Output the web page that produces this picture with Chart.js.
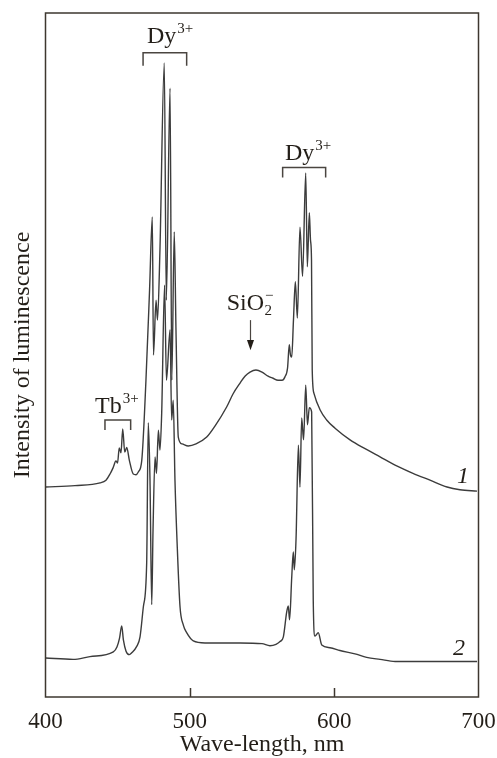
<!DOCTYPE html>
<html>
<head>
<meta charset="utf-8">
<title>Luminescence spectra</title>
<script src="https://cdn.jsdelivr.net/npm/chart.js@4.4.0/dist/chart.umd.min.js"></script>
<style>
  html, body { margin: 0; padding: 0; background: #fff; }
  #wrap { width: 497px; height: 758px; }
</style>
</head>
<body>
<div id="wrap"><canvas id="spectra"></canvas></div>
<script>
// Spectrum 1: wavelength (nm) and intensity (arb. units)
const wl1 = [400, 420.4, 437.8, 441.9, 444.7, 446.8, 448.8, 449.9, 451.1, 452.3, 453.5, 454.9, 456.3, 458.1,
  460.8, 462.7, 464.3, 466.7, 469.6, 472.1, 474.0, 474.8, 476.6, 477.6, 479.3, 482.3, 483.7, 486.3, 487.5,
  489.2, 490.4, 492.0, 494.6, 498.9, 504.3, 511.7, 517.4, 525.5, 529.9, 534.8, 538.2, 541.7, 545.8, 550.0,
  554.2, 557.6, 561.1, 563.9, 565.9, 567.7, 568.9, 569.7, 570.6, 571.8, 573.1, 574.5, 576.3, 578.1, 580.3,
  581.4, 582.8, 583.6, 584.3, 584.8, 586.0, 590.2, 594.8, 600.6, 611.0, 621.4, 631.8, 642.2, 654.6, 666.4,
  678.2, 687.2, 699.0];
const int1 = [30.7, 30.9, 31.3, 31.7, 32.6, 33.5, 34.5, 34.2, 36.4, 35.7, 39.2, 35.8, 36.5, 34.6,
  32.6, 32.5, 32.9, 34.6, 46.3, 59.5, 70.2, 50.0, 58.0, 55.1, 65.4, 92.7, 58.0, 89.0, 46.3,
  68.0, 53.7, 38.0, 37.0, 36.7, 37.0, 38.0, 39.6, 42.4, 44.3, 45.9, 46.9, 47.5, 47.8, 47.5,
  46.9, 46.6, 46.3, 46.3, 46.8, 48.1, 51.5, 50.0, 49.7, 55.1, 60.7, 55.4, 68.7, 61.5, 76.6,
  62.9, 70.8, 66.8, 63.9, 47.8, 44.4, 42.0, 40.5, 39.3, 37.6, 36.3, 35.1, 33.9, 32.7, 31.7,
  30.7, 30.3, 30.1];

// Spectrum 2
const wl2 = [400, 419.1, 430.8, 447.0, 449.5, 451.3, 452.8, 454.0, 455.8, 458.1, 459.9, 463.2, 465.5, 467.8,
  470.1, 471.2, 472.4, 473.6, 474.5, 475.9, 476.9, 478.2, 479.3, 480.5, 482.5, 483.8, 486.3, 487.4, 488.5,
  489.7, 491.3, 493.2, 495.5, 497.8, 502.4, 510.5, 534.8, 550.0, 555.5, 559.7, 562.5, 564.8, 567.1, 568.2,
  569.1, 570.6, 571.7, 572.4, 573.6, 575.2, 576.3, 577.5, 578.8, 580.3, 581.5, 582.8, 584.4, 585.5, 586.7,
  589.0, 591.4, 597.1, 604.0, 614.4, 622.5, 631.8, 642.2, 666.4, 699.0];
const int2 = [5.7, 5.5, 5.9, 6.6, 7.3, 8.6, 10.4, 8.3, 6.7, 6.2, 6.5, 7.4, 8.8, 13.2,
  19.6, 40.1, 31.7, 13.5, 24.4, 35.1, 32.7, 39.0, 36.1, 41.5, 60.2, 46.3, 53.7, 40.5, 43.4,
  31.7, 21.9, 13.2, 10.5, 9.4, 8.2, 7.9, 7.9, 7.8, 7.5, 7.7, 8.1, 8.8, 12.4, 13.3,
  11.3, 17.5, 21.2, 18.6, 23.2, 36.8, 30.7, 40.8, 37.6, 45.6, 39.8, 42.3, 41.7, 14.2, 8.9,
  9.4, 7.6, 7.2, 6.8, 6.3, 5.8, 5.5, 5.2, 5.2, 5.2];

const xTicks = [400, 500, 600, 700];

const serif = '"Liberation Serif", "Times New Roman", serif';
const ink = '#231e18';
const lineColor = '#3c3c3c';

const toPoints = (xs, ys) => xs.map((v, i) => ({ x: v, y: ys[i] }));

// box around the plot and the short inward ticks at 500 / 600
const framePlugin = {
  id: 'frame',
  afterDraw(chart) {
    const { ctx, chartArea: a, scales: { x } } = chart;
    ctx.save();
    ctx.strokeStyle = '#3d372f';
    ctx.lineWidth = 1.5;
    ctx.strokeRect(a.left, a.top, a.right - a.left, a.bottom - a.top);
    xTicks.slice(1, -1).forEach(v => {
      const px = Math.round(x.getPixelForValue(v)) + 0.5;
      ctx.beginPath();
      ctx.moveTo(px, a.bottom);
      ctx.lineTo(px, a.bottom - 9);
      ctx.stroke();
    });
    ctx.restore();
  }
};

// text with superscript (and optional subscript) after it
function ionLabel(ctx, px, py, base, sup, sub) {
  ctx.font = '24px ' + serif;
  ctx.textBaseline = 'alphabetic';
  ctx.textAlign = 'left';
  ctx.fillText(base, px, py);
  const w = ctx.measureText(base).width;
  ctx.font = '15px ' + serif;
  if (sub) ctx.fillText(sub, px + w + 0.5, py + 5);
  ctx.fillText(sup, px + w + 1, py - 10);
}

function bracket(ctx, x1, x2, y, h) {
  ctx.beginPath();
  ctx.moveTo(x1, y + h);
  ctx.lineTo(x1, y);
  ctx.lineTo(x2, y);
  ctx.lineTo(x2, y + h);
  ctx.stroke();
}

const labelPlugin = {
  id: 'labels',
  afterDatasetsDraw(chart) {
    const { ctx, scales: { x, y } } = chart;
    const X = v => x.getPixelForValue(v);
    const Y = v => y.getPixelForValue(v);
    ctx.save();
    ctx.fillStyle = ink;
    ctx.strokeStyle = '#4a4540';
    ctx.lineWidth = 1.5;

    // Dy3+ band at ~480 nm
    bracket(ctx, X(467.6), X(497.8), Y(94.2), 13);
    ionLabel(ctx, X(470.3), Y(95.6), 'Dy', '3+');
    // Dy3+ band at ~575 nm
    bracket(ctx, X(564.3), X(594.1), Y(77.4), 10);
    ionLabel(ctx, X(565.9), Y(78.5), 'Dy', '3+');
    // Tb3+
    bracket(ctx, X(441.2), X(459.0), Y(40.5), 10);
    ionLabel(ctx, X(434.3), Y(41.5), 'Tb', '3+');
    // SiO2- band with arrow
    ionLabel(ctx, X(525.5), Y(56.6), 'SiO', '\u2212', '2');
    const ax = Math.round(X(541.7)) + 0.5;
    ctx.lineWidth = 1.2;
    ctx.beginPath();
    ctx.moveTo(ax, Y(55.1));
    ctx.lineTo(ax, Y(51.5));
    ctx.stroke();
    ctx.beginPath();
    ctx.moveTo(ax - 3.5, Y(52.2));
    ctx.lineTo(ax + 3.5, Y(52.2));
    ctx.lineTo(ax, Y(50.7));
    ctx.closePath();
    ctx.fill();

    // curve numbers
    ctx.font = 'italic 24px ' + serif;
    ctx.fillText('1', X(685.1), Y(31.3));
    ctx.fillText('2', X(682.3), Y(6.1));
    ctx.restore();
  }
};

const ctx = document.getElementById('spectra').getContext('2d');
new Chart(ctx, {
  type: 'line',
  data: {
    datasets: [
      { label: '1', data: toPoints(wl1, int1), borderColor: lineColor, borderWidth: 1.4, fill: false },
      { label: '2', data: toPoints(wl2, int2), borderColor: lineColor, borderWidth: 1.4, fill: false }
    ]
  },
  options: {
    responsive: true,
    maintainAspectRatio: false,
    animation: false,
    layout: { padding: { top: 13, right: 18.5, left: 0, bottom: 0 } },
    // monotone keeps the sharp lines from overshooting while smoothing the broad band
    elements: { point: { radius: 0 }, line: { cubicInterpolationMode: 'monotone' } },
    plugins: { legend: { display: false }, tooltip: { enabled: false } },
    scales: {
      x: {
        type: 'linear', min: 400, max: 700,
        afterBuildTicks: s => { s.ticks = xTicks.map(v => ({ value: v })); },
        afterFit: s => {
          s.height = 61;
          // the end labels may hang past the frame
          s.paddingLeft = 0;
          s.paddingRight = 0;
        },
        grid: { display: false, drawTicks: false },
        border: { display: false },
        ticks: { color: ink, font: { family: serif, size: 23 }, padding: 11, maxRotation: 0 },
        title: { display: true, text: 'Wave-length, nm', color: ink, font: { family: serif, size: 24 }, padding: { top: 0, bottom: -1 } }
      },
      y: {
        type: 'linear', min: 0, max: 100,
        afterFit: s => { s.width = 45.5; },
        grid: { display: false, drawTicks: false },
        border: { display: false },
        ticks: { display: false },
        title: { display: true, text: 'Intensity of luminescence', color: ink, font: { family: serif, size: 24 }, padding: { top: 8, bottom: 0 } }
      }
    }
  },
  plugins: [framePlugin, labelPlugin]
});
</script>
</body>
</html>
